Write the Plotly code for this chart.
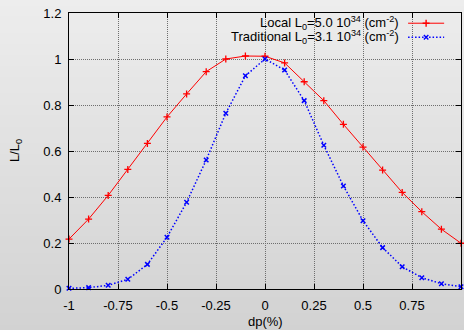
import plotly.graph_objects as go

# Momentum offset dp (%) and normalised luminosity L/L0
dp = [-1.0, -0.9, -0.8, -0.7, -0.6, -0.5, -0.4, -0.3, -0.2, -0.1, 0.0,
      0.1, 0.2, 0.3, 0.4, 0.5, 0.6, 0.7, 0.8, 0.9, 1.0]
local_lum = [0.217, 0.304, 0.407, 0.52, 0.633, 0.748, 0.848, 0.945, 1.0, 1.013, 1.012,
             0.983, 0.901, 0.819, 0.716, 0.617, 0.517, 0.42, 0.336, 0.26, 0.199]
trad_lum = [0.003, 0.006, 0.016, 0.042, 0.107, 0.225, 0.377, 0.561, 0.764, 0.927, 1.0,
            0.952, 0.819, 0.625, 0.448, 0.297, 0.18, 0.097, 0.049, 0.023, 0.01]

local_name = "Local L<sub>0</sub>=5.0 10<sup>34</sup>\u00a0(cm<sup>-2</sup>)"
trad_name = "Traditional L<sub>0</sub>=3.1 10<sup>34</sup>\u00a0(cm<sup>-2</sup>)"

x_tickvals = [-1, -0.75, -0.5, -0.25, 0, 0.25, 0.5, 0.75, 1]
x_ticktext = ["-1", "-0.75", "-0.5", "-0.25", "0", "0.25", "0.5", "0.75", "1"]
y_tickvals = [0, 0.2, 0.4, 0.6, 0.8, 1.0, 1.2]
y_ticktext = ["0", "0.2", "0.4", "0.6", "0.8", "1", "1.2"]

RED = "#ff0000"
BLUE = "#0000ff"
FONT = "Liberation Sans, Arial, sans-serif"
DOTS = "1.5px,2px"

fig = go.Figure()

fig.add_trace(go.Scatter(
    x=dp, y=local_lum, mode="lines+markers", name=local_name,
    line=dict(color=RED, width=1),
    marker=dict(symbol="cross-thin", size=5, color=RED, line=dict(color=RED, width=1.3)),
    showlegend=False, cliponaxis=False,
))
fig.add_trace(go.Scatter(
    x=dp, y=trad_lum, mode="lines+markers", name=trad_name,
    line=dict(color=BLUE, width=1.5, dash=DOTS),
    marker=dict(symbol="x-thin", size=4.5, color=BLUE, line=dict(color=BLUE, width=1.5)),
    showlegend=False, cliponaxis=False,
))

# Key samples drawn on a fixed [0,1] overlay axis, text to their left
key_rows = [(0.963, local_name, RED, "solid", "cross-thin", 5, 1),
            (0.912, trad_name, BLUE, DOTS, "x-thin", 4.5, 1.5)]
for ky, label, col, dash, sym, msz, lw in key_rows:
    fig.add_trace(go.Scatter(
        x=[0.865, 0.957], y=[ky, ky], mode="lines", xaxis="x2", yaxis="y2",
        line=dict(color=col, width=lw, dash=dash), showlegend=False, hoverinfo="skip",
    ))
    fig.add_trace(go.Scatter(
        x=[0.911], y=[ky], mode="markers", xaxis="x2", yaxis="y2",
        marker=dict(symbol=sym, size=msz, color=col, line=dict(color=col, width=1.4)),
        showlegend=False, hoverinfo="skip",
    ))
    fig.add_annotation(
        x=0.846, y=ky, xref="paper", yref="paper", text=label, showarrow=False,
        xanchor="right", yanchor="middle", font=dict(family=FONT, size=13, color="#000"),
    )

# Vertical grey gradient behind everything
top_c, bot_c = (0xED, 0xED, 0xED), (0xD2, 0xD2, 0xD2)
y_lo, y_hi = -41 / 276, 1 + 13 / 276
n = 60
for i in range(n):
    t = (i + 0.5) / n
    c = tuple(round(bot_c[k] + (top_c[k] - bot_c[k]) * t) for k in range(3))
    y0 = y_lo + (y_hi - y_lo) * i / n
    y1 = y_lo + (y_hi - y_lo) * (i + 1) / n + 0.002
    fig.add_shape(type="rect", xref="paper", yref="paper",
                  x0=-0.2, x1=1.05, y0=y0, y1=y1, layer="below",
                  line=dict(width=0), fillcolor="rgb(%d,%d,%d)" % c)

axis_common = dict(
    showline=True, linecolor="black", linewidth=1, mirror="ticks",
    ticks="inside", ticklen=5, tickcolor="black", tickwidth=1,
    showgrid=True, gridcolor="#6e6e6e", gridwidth=1, griddash="1px,1px",
    zeroline=False, tickfont=dict(family=FONT, size=13, color="#000"),
)

fig.update_layout(
    width=464, height=330,
    margin=dict(l=69, r=3, t=13, b=41),
    paper_bgcolor="#dfdfdf", plot_bgcolor="rgba(0,0,0,0)",
    font=dict(family=FONT, size=13, color="#000"),
    xaxis=dict(range=[-1, 1], tickvals=x_tickvals, ticktext=x_ticktext,
               ticklabelstandoff=4, **axis_common),
    yaxis=dict(range=[0, 1.2], tickvals=y_tickvals, ticktext=y_ticktext,
               ticklabelstandoff=4, **axis_common),
    xaxis2=dict(range=[0, 1], overlaying="x", visible=False, fixedrange=True),
    yaxis2=dict(range=[0, 1], overlaying="y", visible=False, fixedrange=True),
    showlegend=False,
)

# Axis titles
fig.add_annotation(x=0.5, y=-32 / 276, xref="paper", yref="paper", text="dp(%)",
                   showarrow=False, xanchor="center", yanchor="middle",
                   font=dict(family=FONT, size=13))
fig.add_annotation(x=-54 / 392, y=0.5, xref="paper", yref="paper", text="L/L<sub>0</sub>",
                   showarrow=False, textangle=-90, xanchor="center", yanchor="middle",
                   font=dict(family=FONT, size=13))

fig.write_html("out.html")
